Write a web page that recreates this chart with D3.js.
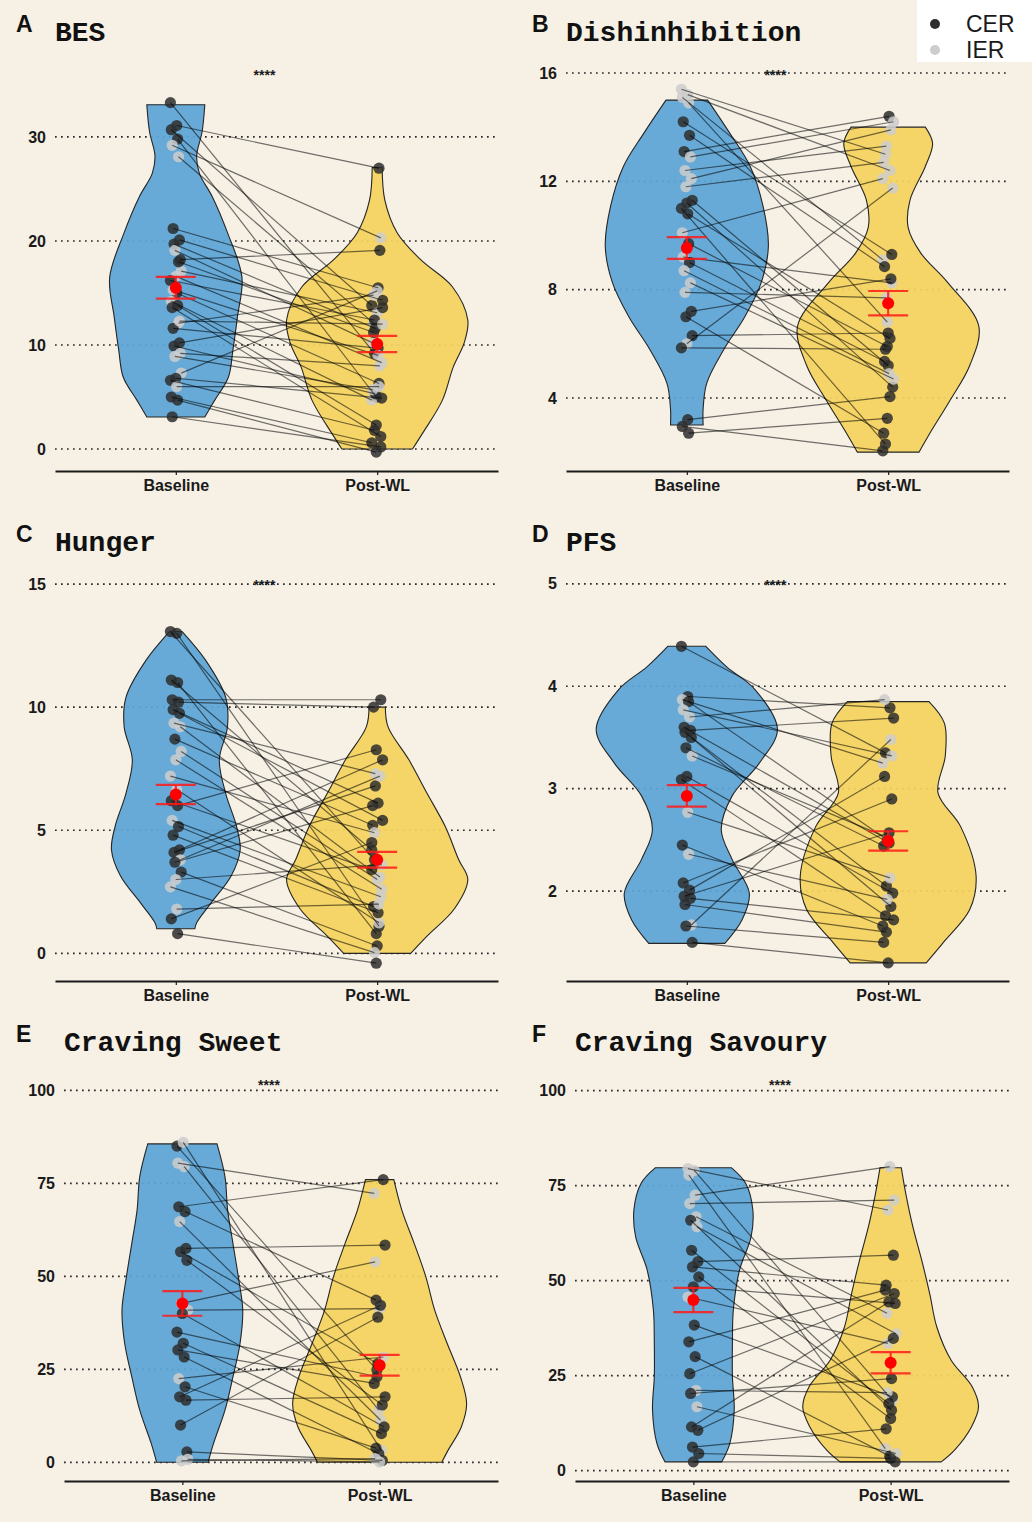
<!DOCTYPE html>
<html>
<head>
<meta charset="utf-8">
<script src="https://cdn.jsdelivr.net/npm/d3@7"></script>
<style>
  body { margin: 0; background: #f6f0e5; }
  svg { display: block; }
</style>
</head>
<body>
<svg id="chart" width="1032" height="1522"></svg>
<script>
var conditions = ['Baseline', 'Post-WL']
var groupNames = ['CER', 'IER']

// A - BES
var besBaseline = [33.3, 31.1, 30.7, 29.8, 29.2, 28.1, 21.2, 20.1, 19.7, 18.2, 19.1, 17.1, 16.6, 16.2, 15.0, 14.2, 13.8, 13.6, 12.1, 11.6, 10.2, 9.9, 9.2, 8.9, 7.3, 6.8, 6.6, 6.0, 5.0, 4.7, 3.1, 18.0, 15.3, 12.3]
var besPostWL = [9.2, 27.0, 13.8, 5.0, 20.3, 12.1, 15.5, 14.3, 11.6, 19.1, 10.2, 13.1, 8.3, 12.4, 6.3, 4.7, 2.3, 1.2, 14.8, 9.7, 13.6, 5.3, 8.0, 5.7, 15.2, 4.9, 1.8, 6.0, 0.6, -0.3, 0.2, 11.2, 9.0, 12.0]
var besGroup = 'CCCCIICCCCIIICCICCICCCIIICCICCCCII'.split('')
var besViolinBase = [[3.07, 0.32], [4.7, 0.43], [6.9, 0.58], [9.5, 0.63], [12.7, 0.68], [16.5, 0.73], [20.8, 0.57], [24.3, 0.40], [26.5, 0.26], [28.2, 0.23], [30.5, 0.29], [33.1, 0.32]]
var besViolinPost = [[0, 0.39], [1.5, 0.50], [4.7, 0.72], [7.9, 0.84], [10.2, 0.96], [12.4, 1.0], [15.6, 0.83], [18.2, 0.48], [20.8, 0.22], [23.9, 0.085], [27.05, 0.055]]
var besMean = [15.5, 10.1]
var besSE = [1.05, 0.78]
var besTicks = [0, 10, 20, 30]

// B - Dishinhibition
var dishBaseline = [15.4, 15.2, 15.1, 14.9, 14.2, 13.7, 13.1, 12.9, 12.4, 12.1, 11.8, 11.3, 11.2, 11.0, 10.8, 10.1, 9.7, 9.2, 9.0, 8.7, 8.25, 7.9, 7.2, 7.0, 6.3, 6.0, 5.85, 3.2, 2.95, 2.7]
var dishPostWL = [13.0, 12.4, 9.1, 6.8, 9.3, 8.85, 14.4, 14.2, 13.3, 13.9, 12.7, 5.2, 4.4, 2.3, 6.2, 12.1, 5.9, 8.25, 5.35, 4.9, 4.7, 7.7, 8.4, 2.7, 6.4, 11.75, 5.8, 4.05, 2.05, 3.25]
var dishGroup = 'IIIICCCIIIICCCCICICIIICCCICCCC'.split('')
var dishViolinBase = [[3.0, 0.18], [3.6, 0.18], [4.55, 0.22], [5.8, 0.41], [7.0, 0.64], [8.25, 0.82], [9.6, 0.90], [11.1, 0.84], [12.55, 0.70], [13.8, 0.47], [15.0, 0.23]]
var dishViolinPost = [[2.0, 0.34], [2.7, 0.46], [3.9, 0.68], [5.2, 0.90], [6.65, 1.0], [8.25, 0.66], [9.35, 0.36], [10.3, 0.22], [11.3, 0.24], [12.55, 0.41], [13.4, 0.49], [14.0, 0.41]]
var dishMean = [9.54, 7.5]
var dishSE = [0.4, 0.45]
var dishTicks = [4, 8, 12, 16]

// C - Hunger
var hungerBaseline = [13.07, 13.0, 11.1, 11.0, 10.3, 10.2, 9.9, 9.75, 9.35, 9.2, 8.7, 8.2, 7.86, 7.2, 6.65, 6.2, 6.0, 5.4, 5.15, 4.8, 4.2, 4.1, 3.8, 3.7, 3.3, 3.0, 2.7, 1.8, 1.4, 0.8]
var hungerPostWL = [3.8, 1.1, 4.2, 0.8, 10.3, 10.0, 6.1, 5.4, 7.3, 3.1, 5.2, 3.0, 2.6, 4.9, 1.24, 3.4, 8.27, 2.3, 1.9, 1.65, 7.86, 6.8, 7.2, 6.0, 0.3, 3.6, 0.03, 2.0, 4.5, -0.4]
var hungerGroup = 'CCCCCCCCIICIIIICCICCCCICCIIICC'.split('')
var hungerViolinBase = [[1.0, 0.21], [1.24, 0.23], [2.05, 0.39], [3.14, 0.61], [4.2, 0.71], [5.16, 0.67], [6.5, 0.55], [7.86, 0.48], [9.2, 0.57], [10.4, 0.55], [11.9, 0.33], [13.07, 0.07]]
var hungerViolinPost = [[0, 0.37], [0.7, 0.55], [1.8, 0.85], [3.0, 1.0], [3.8, 0.9], [5.16, 0.75], [6.5, 0.55], [7.86, 0.35], [9.2, 0.12], [10.0, 0.09]]
var hungerMean = [6.45, 3.8]
var hungerSE = [0.39, 0.32]
var hungerTicks = [0, 5, 10, 15]

// D - PFS
var pfsBaseline = [4.39, 3.9, 3.87, 3.85, 3.77, 3.7, 3.6, 3.57, 3.55, 3.5, 3.4, 3.32, 3.12, 3.09, 2.77, 2.45, 2.36, 2.08, 2.01, 1.95, 1.93, 1.87, 1.67, 1.66, 1.5]
var pfsPostWL = [3.35, 3.79, 3.25, 2.5, 3.32, 3.87, 2.47, 3.69, 2.05, 1.85, 2.44, 2.52, 1.98, 1.76, 2.13, 1.66, 1.92, 2.9, 3.12, 2.57, 1.72, 1.6, 3.48, 1.5, 1.3]
var pfsGroup = 'CCICIICCCCCICCICICCCCCICC'.split('')
var pfsViolinBase = [[1.49, 0.42], [1.72, 0.61], [1.98, 0.69], [2.31, 0.5], [2.6, 0.38], [2.93, 0.5], [3.25, 0.80], [3.58, 1.0], [3.97, 0.75], [4.19, 0.44], [4.39, 0.21]]
var pfsViolinPost = [[1.3, 0.42], [1.5, 0.61], [1.82, 0.9], [2.15, 0.97], [2.63, 0.80], [2.96, 0.55], [3.32, 0.63], [3.64, 0.62], [3.85, 0.45]]
var pfsMean = [2.93, 2.49]
var pfsSE = [0.105, 0.095]
var pfsTicks = [2, 3, 4, 5]

// E - Craving Sweet
var sweetBaseline = [85, 86, 80.4, 79.5, 68.7, 67.4, 64.7, 57.5, 56.6, 54.3, 42.7, 40.9, 40, 35, 32, 30.2, 28.3, 22.5, 20.3, 17.6, 16.7, 10, 2.8, 0.4, 0.8]
var sweetPostWL = [24.8, 3.2, 72.3, 14, 76, 43.6, 11.3, 58.4, 26.5, 15.4, 53.9, 41.3, 9.5, 23, 7.7, 21.2, 2.3, 28.3, 3.8, 42.2, 17.6, 39, 0.5, 1, 0.1]
var sweetGroup = 'CIIICCICCCIICCCCCICCCCCII'.split('')
var sweetViolinBase = [[0, 0.29], [5, 0.35], [14, 0.48], [23, 0.57], [32, 0.65], [40.9, 0.68], [49.9, 0.63], [58.8, 0.57], [67.8, 0.51], [76.8, 0.48], [85.6, 0.39]]
var sweetViolinPost = [[0, 0.70], [3.2, 0.77], [9.5, 0.92], [15.8, 0.98], [23, 0.91], [32, 0.76], [40.9, 0.62], [49.9, 0.52], [58.8, 0.39], [67.8, 0.25], [76, 0.16]]
var sweetMean = [42.7, 26.1]
var sweetSE = [3.3, 2.8]
var sweetTicks = [0, 25, 50, 75, 100]

// F - Craving Savoury
var savouryBaseline = [79.5, 79.0, 77.8, 72.5, 70.3, 66.8, 65.9, 64.2, 58, 55, 53.6, 51, 48.4, 45.7, 38.3, 33.9, 30, 25.5, 21.1, 20.3, 16.8, 11.5, 10.6, 6.2, 4.5, 2.3]
var savouryPostWL = [68.6, 18.5, 5.8, 80, 71.2, 41.4, 15.9, 36, 17.6, 56.7, 48.8, 13.7, 44, 33.5, 19.4, 47.5, 3.8, 46.6, 20.5, 24.2, 4.5, 44.4, 34.8, 11, 3.2, 2.3]
var savouryGroup = 'IIIIIICICCCCCICCCCICICCCCC'.split('')
var savouryViolinBase = [[2.3, 0.32], [7.1, 0.41], [15.9, 0.46], [24.7, 0.44], [33.5, 0.44], [42.2, 0.45], [52.8, 0.52], [61.5, 0.65], [68.6, 0.67], [75.6, 0.59], [79.7, 0.43]]
var savouryViolinPost = [[2.3, 0.57], [5.4, 0.72], [11.5, 0.91], [16.8, 0.99], [22, 0.92], [29.1, 0.68], [37.8, 0.52], [46.6, 0.44], [55.4, 0.35], [64.2, 0.25], [73, 0.17], [79.7, 0.12]]
var savouryMean = [44.9, 28.4]
var savourySE = [3.2, 2.8]
var savouryTicks = [0, 25, 50, 75, 100]

var BG = '#f6f0e5'
var violinFill = {'Baseline': '#5ba5d6', 'Post-WL': '#f4d35e'}
var pointFill = {'C': '#2e2e2e', 'I': '#cdcdcd'}
var SANS = '"Liberation Sans", Arial, sans-serif'
var MONO = '"Liberation Mono", "Courier New", monospace'
var AXIS_Y = 471, TOP_Y = 60

var panels = [
  {letter: 'A', title: 'BES', base: besBaseline, post: besPostWL, group: besGroup, vb: besViolinBase, vp: besViolinPost, mean: besMean, se: besSE, ticks: besTicks, domain: [-2.115, 37.4], ox: 0, oy: 0, left: 55, right: 498},
  {letter: 'B', title: 'Dishinhibition', base: dishBaseline, post: dishPostWL, group: dishGroup, vb: dishViolinBase, vp: dishViolinPost, mean: dishMean, se: dishSE, ticks: dishTicks, domain: [1.304, 16.48], ox: 516, oy: 0, left: 50, right: 493},
  {letter: 'C', title: 'Hunger', base: hungerBaseline, post: hungerPostWL, group: hungerGroup, vb: hungerViolinBase, vp: hungerViolinPost, mean: hungerMean, se: hungerSE, ticks: hungerTicks, domain: [-1.123, 15.57], ox: 0, oy: 510, left: 55, right: 498},
  {letter: 'D', title: 'PFS', base: pfsBaseline, post: pfsPostWL, group: pfsGroup, vb: pfsViolinBase, vp: pfsViolinPost, mean: pfsMean, se: pfsSE, ticks: pfsTicks, domain: [1.123, 5.135], ox: 516, oy: 510, left: 50, right: 493},
  {letter: 'E', title: 'Craving Sweet', base: sweetBaseline, post: sweetPostWL, group: sweetGroup, vb: sweetViolinBase, vp: sweetViolinPost, mean: sweetMean, se: sweetSE, ticks: sweetTicks, domain: [-5.03, 105.46], ox: 0, oy: 1010, left: 64, right: 498},
  {letter: 'F', title: 'Craving Savoury', base: savouryBaseline, post: savouryPostWL, group: savouryGroup, vb: savouryViolinBase, vp: savouryViolinPost, mean: savouryMean, se: savourySE, ticks: savouryTicks, domain: [-2.74, 105.45], ox: 516, oy: 1010, left: 59, right: 493}
]

var svg = d3.select('#chart')
svg.append('rect').attr('width', 1032).attr('height', 1522).attr('fill', BG)

// small fixed horizontal spread for the points (display only)
function jit(i, k) { return (((i * (k ? 5 : 7) + (k ? 3 : 0)) % 13) - 6) * 0.9 }

function drawPanel(p) {
  var g = svg.append('g').attr('transform', 'translate(' + p.ox + ',' + p.oy + ')')
  var x = d3.scalePoint().domain(conditions).range([p.left, p.right]).padding(0.6)
  var y = d3.scaleLinear().domain(p.domain).range([AXIS_Y, TOP_Y])
  var w = d3.scaleLinear().domain([0, 1]).range([0, x.step() * 0.45])

  // dotted grid
  g.append('g').selectAll('line').data(p.ticks).join('line')
    .attr('x1', p.left).attr('x2', p.right)
    .attr('y1', function(d) { return y(d) }).attr('y2', function(d) { return y(d) })
    .attr('stroke', '#2a2a2a').attr('stroke-width', 1.7)
    .attr('stroke-dasharray', '1.7,4.3')

  // y labels
  var yAx = g.append('g').attr('transform', 'translate(' + p.left + ',0)')
    .call(d3.axisLeft(y).tickValues(p.ticks).tickSize(0).tickPadding(9).tickFormat(d3.format('d')))
  yAx.select('.domain').remove()
  yAx.selectAll('text').attr('font-family', SANS).attr('font-weight', 'bold')
    .attr('font-size', 16).attr('fill', '#1a1a1a')

  // x axis
  var xAx = g.append('g').attr('transform', 'translate(0,' + AXIS_Y + ')')
    .call(d3.axisBottom(x).tickSize(4).tickSizeOuter(0).tickPadding(5))
  xAx.select('.domain').attr('stroke', '#1a1a1a').attr('stroke-width', 1.8)
  xAx.selectAll('.tick line').attr('stroke', '#1a1a1a').attr('stroke-width', 1.2)
  xAx.selectAll('text').attr('font-family', SANS).attr('font-weight', 'bold')
    .attr('font-size', 16).attr('fill', '#1a1a1a')

  // violins
  var violins = [{c: 'Baseline', d: p.vb}, {c: 'Post-WL', d: p.vp}]
  violins.forEach(function(v) {
    var cx = x(v.c)
    var area = d3.area().curve(d3.curveCatmullRom.alpha(0.5))
      .y(function(d) { return y(d[0]) })
      .x0(function(d) { return cx - w(d[1]) })
      .x1(function(d) { return cx + w(d[1]) })
    g.append('path').datum(v.d).attr('d', area)
      .attr('fill', violinFill[v.c]).attr('fill-opacity', 0.93)
      .attr('stroke', '#262626').attr('stroke-width', 1.1)
  })

  var idx = d3.range(p.base.length)
  var xb = x('Baseline'), xp = x('Post-WL')

  // points
  var pts = g.append('g')
  pts.selectAll('circle.b').data(idx).join('circle').attr('class', 'b')
    .attr('cx', function(i) { return xb + jit(i, 0) })
    .attr('cy', function(i) { return y(p.base[i]) })
    .attr('r', 5.6).attr('fill', function(i) { return pointFill[p.group[i]] })
    .attr('fill-opacity', 0.85)
  pts.selectAll('circle.p').data(idx).join('circle').attr('class', 'p')
    .attr('cx', function(i) { return xp + jit(i, 1) })
    .attr('cy', function(i) { return y(p.post[i]) })
    .attr('r', 5.6).attr('fill', function(i) { return pointFill[p.group[i]] })
    .attr('fill-opacity', 0.85)

  // paired lines
  g.append('g').selectAll('line').data(idx).join('line')
    .attr('x1', function(i) { return xb + jit(i, 0) })
    .attr('y1', function(i) { return y(p.base[i]) })
    .attr('x2', function(i) { return xp + jit(i, 1) })
    .attr('y2', function(i) { return y(p.post[i]) })
    .attr('stroke', '#000').attr('stroke-opacity', 0.55).attr('stroke-width', 1.2)

  // mean +- se
  var ms = g.append('g')
  conditions.forEach(function(c, k) {
    var cx = x(c), m = p.mean[k], s = p.se[k]
    ms.append('line').attr('x1', cx).attr('x2', cx).attr('y1', y(m - s)).attr('y2', y(m + s))
      .attr('stroke', '#ff1a1a').attr('stroke-opacity', 0.85).attr('stroke-width', 2.2)
    ;[m - s, m + s].forEach(function(v) {
      ms.append('line').attr('x1', cx - 20).attr('x2', cx + 20).attr('y1', y(v)).attr('y2', y(v))
        .attr('stroke', '#ff1a1a').attr('stroke-opacity', 0.85).attr('stroke-width', 2.2)
    })
    ms.append('circle').attr('cx', cx).attr('cy', y(m)).attr('r', 6).attr('fill', '#ff0000')
  })

  // significance
  g.append('text').attr('x', (xb + xp) / 2 - 12).attr('y', 80)
    .attr('text-anchor', 'middle').attr('font-family', SANS).attr('font-size', 14)
    .attr('font-weight', 'bold').attr('fill', '#1a1a1a').text('****')

  // titles
  g.append('text').attr('x', 16).attr('y', 32).attr('font-family', SANS)
    .attr('font-weight', 'bold').attr('font-size', 23).attr('fill', '#111').text(p.letter)
  g.append('text').attr('x', p.left).attr('y', 41).attr('font-family', MONO)
    .attr('font-weight', 'bold').attr('font-size', 28).attr('fill', '#111').text(p.title)
}

panels.forEach(function(p) { drawPanel(p) })

// legend
var lg = svg.append('g')
lg.append('rect').attr('x', 917).attr('y', 0).attr('width', 115).attr('height', 62).attr('fill', '#ffffff')
groupNames.forEach(function(name, k) {
  var ly = 24 + k * 26
  lg.append('circle').attr('cx', 935).attr('cy', ly).attr('r', 5)
    .attr('fill', pointFill[name.charAt(0)])
  lg.append('text').attr('x', 966).attr('y', ly + 8).attr('font-family', SANS)
    .attr('font-size', 23).attr('fill', '#1a1a1a').text(name)
})
</script>
</body>
</html>
